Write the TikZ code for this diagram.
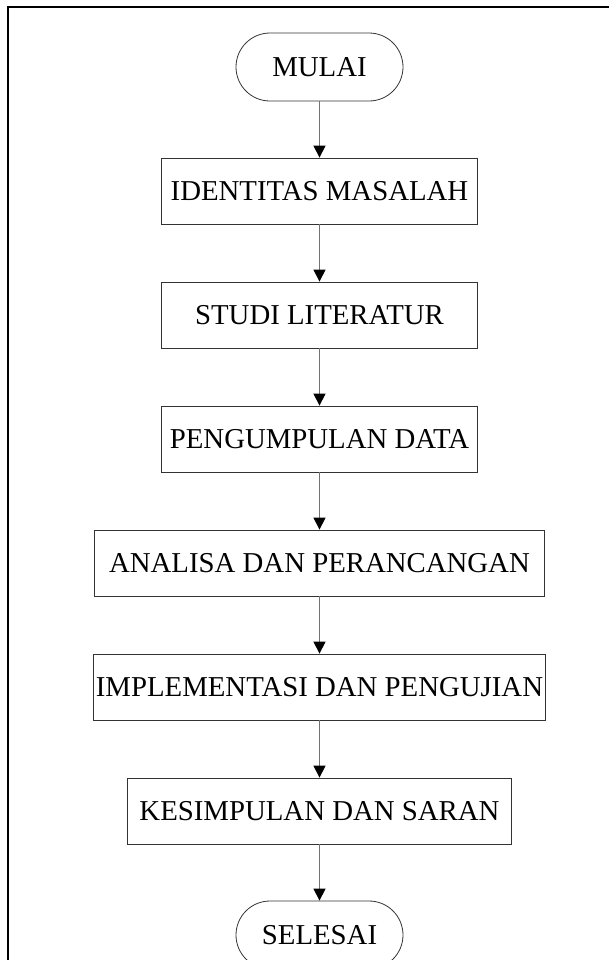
\documentclass[tikz,border=0pt]{standalone}
\usepackage{fontspec}
\setmainfont{Liberation Serif}
\usepackage{tikz}
\usetikzlibrary{positioning}
\usetikzlibrary{arrows.meta}
\tikzset{
    node distance=62pt, % Distance between the centres of two steps
    every node/.style={font=\fontsize{14.4}{17}\selectfont, inner xsep=1pt},
    terminal/.style={ % Start and end blocks
        draw=black!80,
        rounded corners=17pt,
        minimum width=83.5pt,
        minimum height=34pt
    },
    process/.style={ % Boxes of the steps
        draw=black!80,
        minimum height=33pt
    },
    every edge/.style={ % Arrows between the steps
        draw=black!55,
        -{Triangle[length=6pt,width=6pt,black]},
        line width=0.6pt
    }
}

\begin{document}
\begin{tikzpicture}[x=0.5pt,y=-0.5pt]
            \useasboundingbox (0,0) rectangle (609,960);
            \clip (0,0) rectangle (609,960);
            \draw[line width=1pt] (8,960) -- (8,7) -- (609,7);

            \node[terminal] (mulai) at (319.5,67) {MULAI};
            \node[process, minimum width=158pt, below of=mulai] (identitas) {IDENTITAS MASALAH};
            \node[process, minimum width=158pt, below of=identitas] (studi) {STUDI LITERATUR};
            \node[process, minimum width=158pt, below of=studi] (pengumpulan) {PENGUMPULAN DATA};
            \node[process, minimum width=225pt, below of=pengumpulan] (analisa) {ANALISA DAN PERANCANGAN};
            \node[process, minimum width=225pt, below of=analisa] (implementasi) {IMPLEMENTASI DAN PENGUJIAN};
            \node[process, minimum width=192pt, below of=implementasi] (kesimpulan) {KESIMPULAN DAN SARAN};
            \node[terminal, below of=kesimpulan] (selesai) {SELESAI};

            \draw (mulai) edge (identitas);
            \draw (identitas) edge (studi);
            \draw (studi) edge (pengumpulan);
            \draw (pengumpulan) edge (analisa);
            \draw (analisa) edge (implementasi);
            \draw (implementasi) edge (kesimpulan);
            \draw (kesimpulan) edge (selesai);
        \end{tikzpicture}
\end{document}
